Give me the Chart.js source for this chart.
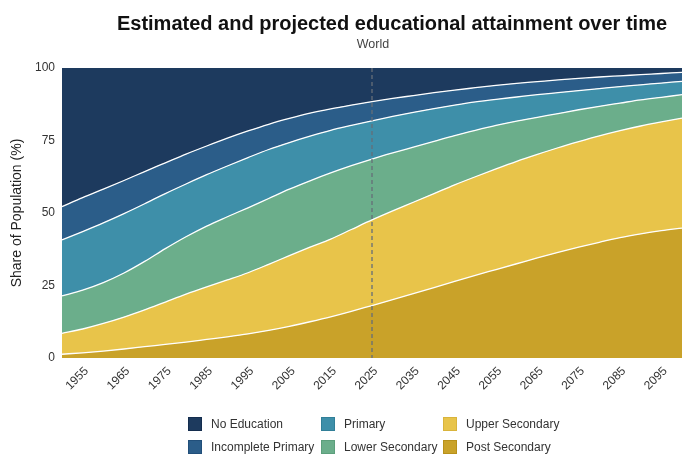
<!DOCTYPE html>
<html>
<head>
<meta charset="utf-8">
<script src="https://cdn.jsdelivr.net/npm/chart.js@4.4.1/dist/chart.umd.min.js"></script>
<style>
  html, body { margin: 0; padding: 0; background: #fff; }
  #wrap { position: relative; width: 700px; height: 463px; font-family: "Liberation Sans", Arial, sans-serif; }
  #chartBox { position: absolute; left: 0; top: 0; width: 700px; height: 463px; }
  #title { position: absolute; left: 392px; top: 12px; transform: translateX(-50%); white-space: nowrap;
           font-weight: bold; font-size: 20px; color: #111; }
  #subtitle { position: absolute; left: 373px; top: 37px; transform: translateX(-50%); white-space: nowrap;
              font-size: 12.5px; color: #444; }
  #legend { position: absolute; left: 0; top: 0; width: 700px; height: 463px; pointer-events: none; }
  .li { position: absolute; display: flex; align-items: center; font-size: 12px; color: #333; white-space: nowrap; }
  .sw { width: 12px; height: 12px; border: 1px solid; margin-right: 9px; }
</style>
</head>
<body>
<div id="wrap">
  <div id="chartBox"><canvas id="c"></canvas></div>
  <div id="title">Estimated and projected educational attainment over time</div>
  <div id="subtitle">World</div>
  <div id="legend"></div>
</div>
<script>
const years = [1950,1955,1960,1965,1970,1975,1980,1985,1990,1995,2000,2005,2010,2015,2020,2025,2030,2035,2040,2045,2050,2055,2060,2065,2070,2075,2080,2085,2090,2095,2100];
const DASH_YEAR = 2025;
const yTicks = [0, 25, 50, 75, 100];

const postSecondary   = [1.3,1.8,2.4,3.1,3.9,4.7,5.5,6.4,7.3,8.3,9.5,10.9,12.5,14.2,16.1,18.1,20.1,22.2,24.3,26.4,28.5,30.5,32.5,34.5,36.4,38.2,39.9,41.5,42.8,43.9,44.8];
const upperSecondary  = [7.2,8.2,9.5,11.0,12.7,14.6,16.5,18.1,19.6,21.1,22.8,24.4,25.7,26.8,28.2,29.5,30.6,31.5,32.4,33.3,34.0,34.7,35.3,35.7,36.1,36.4,36.7,36.9,37.2,37.5,37.9];
const lowerSecondary  = [12.9,13.4,14.1,15.2,16.7,18.4,19.8,21.0,21.8,22.4,22.7,22.9,22.9,22.8,22.0,21.0,20.0,19.0,18.0,17.0,16.0,15.0,13.9,12.8,11.8,11.0,10.2,9.5,9.0,8.5,8.1];
const primary         = [19.3,20.2,20.6,20.5,19.9,19.0,18.2,17.7,17.5,17.3,16.9,16.1,15.4,14.7,13.9,13.2,12.6,12.0,11.3,10.5,9.8,9.0,8.3,7.8,7.2,6.6,6.1,5.7,5.2,4.9,4.6];
const incompletePrim  = [11.5,11.7,11.6,11.4,11.1,10.6,10.3,9.9,9.6,9.2,8.7,8.3,7.9,7.4,7.0,6.6,6.2,5.8,5.5,5.2,4.9,4.8,4.7,4.5,4.4,4.2,4.0,3.7,3.5,3.3,3.1];
const noEducation     = [47.8,44.7,41.8,38.8,35.7,32.7,29.7,26.9,24.2,21.7,19.4,17.4,15.6,14.1,12.8,11.6,10.5,9.5,8.5,7.6,6.8,6.0,5.3,4.7,4.1,3.6,3.1,2.7,2.3,1.9,1.5];

const seriesNames  = ['Post Secondary','Upper Secondary','Lower Secondary','Primary','Incomplete Primary','No Education'];
const seriesData   = [postSecondary, upperSecondary, lowerSecondary, primary, incompletePrim, noEducation];
const seriesColors = ['#c9a229','#e8c44a','#6bae8b','#3e8fa9','#2b5d89','#1d3a5e'];
const seriesBorder = ['#b8911a','#d9b43c','#5c9f7c','#317f98','#214f7a','#142d4e'];
// legend layout (column-major as in reference)
const legendOrder = ['No Education','Incomplete Primary','Primary','Lower Secondary','Upper Secondary','Post Secondary'];

const datasets = seriesNames.map((name, i) => ({
  label: name,
  data: seriesData[i],
  backgroundColor: seriesColors[i],
  borderColor: i === seriesNames.length - 1 ? seriesColors[i] : '#ffffff',
  borderWidth: i === seriesNames.length - 1 ? 0 : 1.3,
  fill: i === 0 ? 'origin' : '-1',
  pointRadius: 0,
  pointHoverRadius: 0,
  cubicInterpolationMode: 'monotone'
}));

const dashPlugin = {
  id: 'dashLine',
  afterDatasetsDraw(chart) {
    const idx = years.indexOf(DASH_YEAR);
    const x = chart.scales.x.getPixelForValue(idx);
    const { top, bottom } = chart.chartArea;
    const ctx = chart.ctx;
    ctx.save();
    ctx.strokeStyle = '#666e78';
    ctx.lineWidth = 1.3;
    ctx.setLineDash([4, 3]);
    ctx.beginPath();
    ctx.moveTo(x, top);
    ctx.lineTo(x, bottom);
    ctx.stroke();
    ctx.restore();
  }
};

Chart.defaults.font.family = '"Liberation Sans", Arial, sans-serif';
Chart.defaults.color = '#333';

new Chart(document.getElementById('c'), {
  type: 'line',
  data: { labels: years.map(String), datasets },
  plugins: [dashPlugin],
  options: {
    responsive: true,
    maintainAspectRatio: false,
    animation: false,
    layout: { padding: { top: 68, right: 18, left: 0, bottom: 0 } },
    plugins: { legend: { display: false }, tooltip: { enabled: false }, title: { display: false } },
    scales: {
      x: {
        type: 'category',
        offset: false,
        grid: { display: false, drawTicks: false },
        border: { display: false },
        ticks: {
          autoSkip: false,
          maxRotation: 45,
          minRotation: 45,
          padding: 6,
          labelOffset: 4,
          font: { size: 12 },
          color: '#333',
          callback: (v, i) => (years[i] % 10 === 5 ? String(years[i]) : '')
        },
        afterFit: s => { s.height = 105; }
      },
      y: {
        stacked: true,
        min: 0,
        max: 100,
        grid: { display: false, drawTicks: false },
        border: { display: false },
        afterBuildTicks: s => { s.ticks = yTicks.map(v => ({ value: v })); },
        ticks: { font: { size: 12 }, color: '#333', padding: 7 },
        title: { display: true, text: 'Share of Population (%)', font: { size: 14 }, color: '#222', padding: { top: 9, bottom: 0 } },
        afterFit: s => { s.width = 62; }
      }
    }
  }
});

// HTML legend
const legendPos = [
  [188, 417], [188, 440],
  [321, 417], [321, 440],
  [443, 417], [443, 440]
];
const legendEl = document.getElementById('legend');
legendOrder.forEach((name, k) => {
  const i = seriesNames.indexOf(name);
  const item = document.createElement('div');
  item.className = 'li';
  item.style.left = legendPos[k][0] + 'px';
  item.style.top = legendPos[k][1] + 'px';
  const sw = document.createElement('span');
  sw.className = 'sw';
  sw.style.background = seriesColors[i];
  sw.style.borderColor = seriesBorder[i];
  const tx = document.createElement('span');
  tx.textContent = name;
  item.appendChild(sw);
  item.appendChild(tx);
  legendEl.appendChild(item);
});
</script>
</body>
</html>
